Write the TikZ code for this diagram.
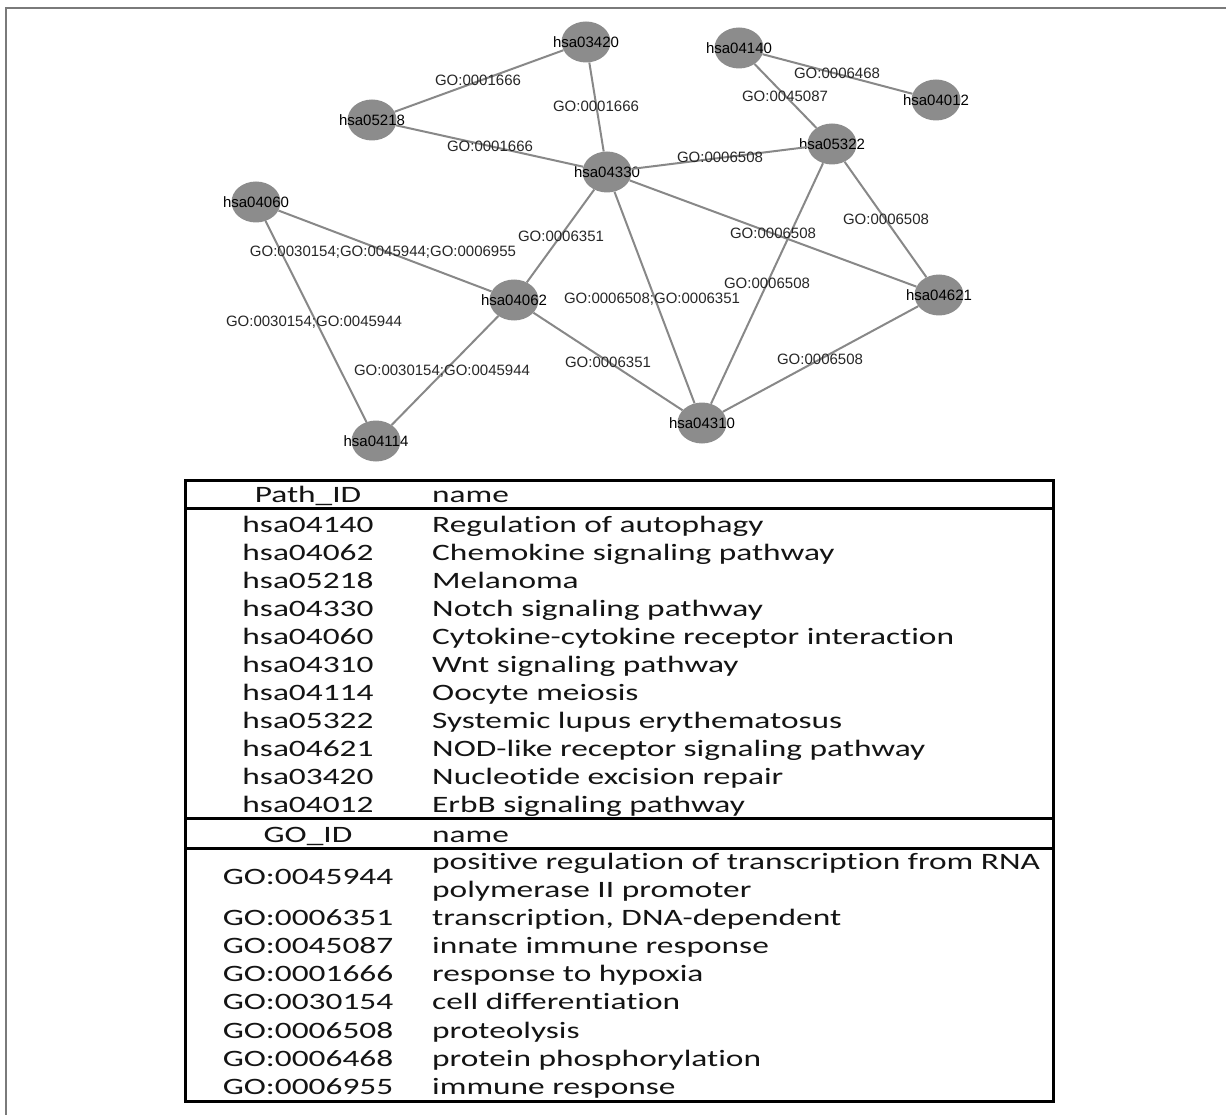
\documentclass[tikz,border=0pt]{standalone}
\usepackage{fontspec}
\setmainfont{Liberation Sans}
\newfontfamily\tabfont[FakeStretch=1.42,RawFeature={-liga;-clig;-dlig;-calt}]{Carlito}
\usetikzlibrary{shapes.geometric}
\definecolor{nodegray}{HTML}{8C8C8C}
\definecolor{edgegray}{HTML}{888888}
\definecolor{framegray}{HTML}{7A7A7A}
\begin{document}
\begin{tikzpicture}[x=1pt,y=-1pt,
  pnode/.style={ellipse, fill=nodegray, minimum width=49pt, minimum height=41pt, inner sep=0pt},
  nlab/.style={font=\fontsize{15}{17}\selectfont, text=black, inner sep=0pt, text height=10.8pt, text depth=0pt},
  conn/.style={draw=edgegray, line width=2pt},
  elab/.style={font=\fontsize{15}{17}\selectfont, text=black!85, inner sep=0pt, text height=10.7pt, text depth=0pt},
  tid/.style={font=\tabfont\fontsize{23.5}{28}\selectfont, anchor=base, inner sep=0pt, text=black!92},
  tname/.style={font=\tabfont\fontsize{23.5}{28}\selectfont, anchor=base west, inner sep=0pt, text=black!92},
  tframe/.style={line width=3pt, draw=black}
]
\useasboundingbox (0,0) rectangle (1226,1115);
\draw[framegray, line width=2pt] (6,1115) -- (6,8) -- (1226,8);

% ---------- network nodes ----------
\node[pnode, label={[nlab]center:hsa03420}] (n03420) at (586,42) {};
\node[pnode, label={[nlab]center:hsa05218}] (n05218) at (372,120) {};
\node[pnode, label={[nlab]center:hsa04330}] (n04330) at (607,172) {};
\node[pnode, label={[nlab]center:hsa04060}] (n04060) at (256,202) {};
\node[pnode, label={[nlab]center:hsa04140}] (n04140) at (739,48) {};
\node[pnode, label={[nlab]center:hsa04012}] (n04012) at (936,100) {};
\node[pnode, label={[nlab]center:hsa05322}] (n05322) at (832,144) {};
\node[pnode, label={[nlab]center:hsa04062}] (n04062) at (514,300) {};
\node[pnode, label={[nlab]center:hsa04114}] (n04114) at (376,441) {};
\node[pnode, label={[nlab]center:hsa04621}] (n04621) at (939,295) {};
\node[pnode, label={[nlab]center:hsa04310}] (n04310) at (702,423) {};

% ---------- connectors ----------
\draw[conn] (n05218) -- (n03420);
\draw[conn] (n03420) -- (n04330);
\draw[conn] (n05218) -- (n04330);
\draw[conn] (n04140) -- (n05322);
\draw[conn] (n04140) -- (n04012);
\draw[conn] (n04330) -- (n05322);
\draw[conn] (n04330) -- (n04621);
\draw[conn] (n05322) -- (n04621);
\draw[conn] (n05322) -- (n04310);
\draw[conn] (n04621) -- (n04310);
\draw[conn] (n04330) -- (n04310);
\draw[conn] (n04330) -- (n04062);
\draw[conn] (n04062) -- (n04310);
\draw[conn] (n04060) -- (n04062);
\draw[conn] (n04060) -- (n04114);
\draw[conn] (n04062) -- (n04114);

% ---------- connector labels ----------
\node[elab] (l1) at (478,80) {GO:0001666};
\node[elab] (l2) at (596,106) {GO:0001666};
\node[elab] (l3) at (490,146) {GO:0001666};
\node[elab] (l4) at (785,96) {GO:0045087};
\node[elab] (l5) at (837,73) {GO:0006468};
\node[elab] (l6) at (720,157) {GO:0006508};
\node[elab] (l7) at (773,233) {GO:0006508};
\node[elab] (l8) at (886,219) {GO:0006508};
\node[elab] (l9) at (767,283) {GO:0006508};
\node[elab] (l10) at (820,359) {GO:0006508};
\node[elab] (l11) at (652,298) {GO:0006508;GO:0006351};
\node[elab] (l12) at (561,236) {GO:0006351};
\node[elab] (l13) at (608,362) {GO:0006351};
\node[elab] (l14) at (383,251) {GO:0030154;GO:0045944;GO:0006955};
\node[elab] (l15) at (314,321) {GO:0030154;GO:0045944};
\node[elab] (l16) at (442,370) {GO:0030154;GO:0045944};

% ---------- table ----------
\draw[tframe] (185,480) rectangle (1053,1101);
\draw[tframe] (185,508) -- (1053,508);
\draw[tframe] (185,818) -- (1053,818);
\draw[tframe] (185,848) -- (1053,848);

\node[tid] (h1) at (308,502) {Path\_ID};
\node[tname] (h2) at (432,502) {name};

\node[tid] (p1) at (308,532) {hsa04140};   \node[tname] (q1) at (432,532) {Regulation of autophagy};
\node[tid] (p2) at (308,560) {hsa04062};   \node[tname] (q2) at (432,560) {Chemokine signaling pathway};
\node[tid] (p3) at (308,588) {hsa05218};   \node[tname] (q3) at (432,588) {Melanoma};
\node[tid] (p4) at (308,616) {hsa04330};   \node[tname] (q4) at (432,616) {Notch signaling pathway};
\node[tid] (p5) at (308,644) {hsa04060};   \node[tname] (q5) at (432,644) {Cytokine-cytokine receptor interaction};
\node[tid] (p6) at (308,672) {hsa04310};   \node[tname] (q6) at (432,672) {Wnt signaling pathway};
\node[tid] (p7) at (308,700) {hsa04114};   \node[tname] (q7) at (432,700) {Oocyte meiosis};
\node[tid] (p8) at (308,728) {hsa05322};   \node[tname] (q8) at (432,728) {Systemic lupus erythematosus};
\node[tid] (p9) at (308,756) {hsa04621};   \node[tname] (q9) at (432,756) {NOD-like receptor signaling pathway};
\node[tid] (p10) at (308,784) {hsa03420};  \node[tname] (q10) at (432,784) {Nucleotide excision repair};
\node[tid] (p11) at (308,812) {hsa04012};  \node[tname] (q11) at (432,812) {ErbB signaling pathway};

\node[tid] (g0) at (308,842) {GO\_ID};
\node[tname] (g0n) at (432,842) {name};

\node[tid] (g1) at (308,884) {GO:0045944};
\node[tname] (g1a) at (432,869) {positive regulation of transcription from RNA};
\node[tname] (g1b) at (432,897) {polymerase II promoter};
\node[tid] (g2) at (308,925) {GO:0006351};  \node[tname] (g2n) at (432,925) {transcription, DNA-dependent};
\node[tid] (g3) at (308,953) {GO:0045087};  \node[tname] (g3n) at (432,953) {innate immune response};
\node[tid] (g4) at (308,981) {GO:0001666};  \node[tname] (g4n) at (432,981) {response to hypoxia};
\node[tid] (g5) at (308,1009) {GO:0030154}; \node[tname] (g5n) at (432,1009) {cell differentiation};
\node[tid] (g6) at (308,1038) {GO:0006508}; \node[tname] (g6n) at (432,1038) {proteolysis};
\node[tid] (g7) at (308,1066) {GO:0006468}; \node[tname] (g7n) at (432,1066) {protein phosphorylation};
\node[tid] (g8) at (308,1094) {GO:0006955}; \node[tname] (g8n) at (432,1094) {immune response};
\end{tikzpicture}
\end{document}
